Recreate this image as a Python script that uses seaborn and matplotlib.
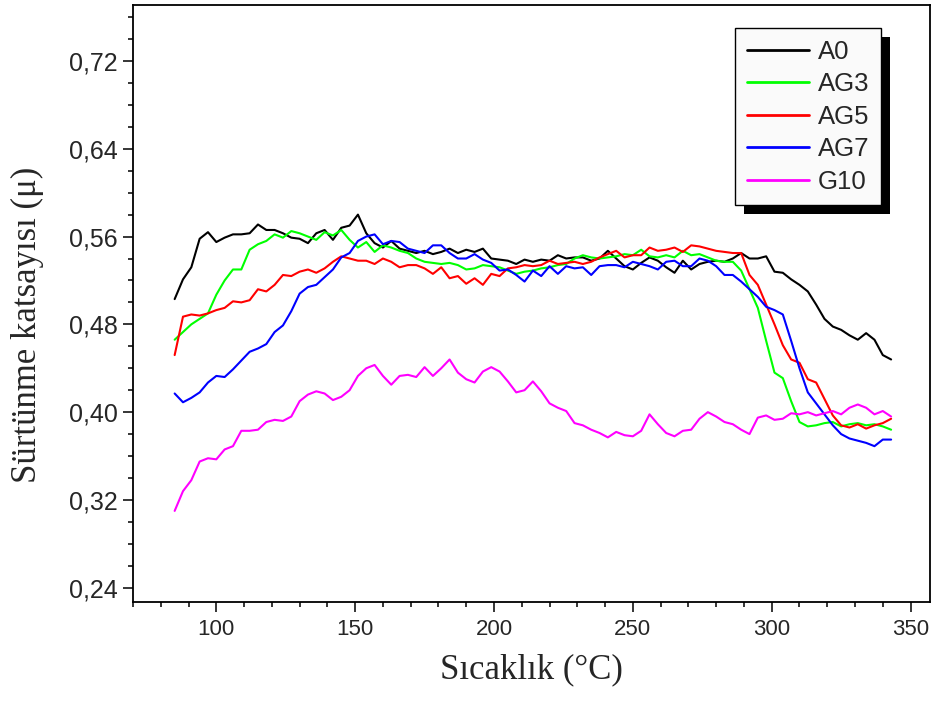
import numpy as np
import pandas as pd
import matplotlib
matplotlib.use("Agg")
import matplotlib.pyplot as plt
from matplotlib.patches import Rectangle
from matplotlib.ticker import MultipleLocator, FuncFormatter
import seaborn as sns

# sicaklik (°C) - ortak okuma noktalari
sicaklik = [85, 88, 91, 94, 97, 100, 103, 106, 109, 112, 115, 118, 121, 124, 127,
            130, 133, 136, 139, 142, 145, 148, 151, 154, 157, 160, 163, 166, 169, 172,
            175, 178, 181, 184, 187, 190, 193, 196, 199, 202, 205, 208, 211, 214, 217,
            220, 223, 226, 229, 232, 235, 238, 241, 244, 247, 250, 253, 256, 259, 262,
            265, 268, 271, 274, 277, 280, 283, 286, 289, 292, 295, 298, 301, 304, 307,
            310, 313, 316, 319, 322, 325, 328, 331, 334, 337, 340, 343]

a0 = [0.503, 0.521, 0.532, 0.558, 0.564, 0.555, 0.559, 0.562, 0.562, 0.563, 0.571, 0.566, 0.566, 0.563, 0.559,
      0.558, 0.554, 0.563, 0.566, 0.557, 0.568, 0.570, 0.580, 0.563, 0.554, 0.550, 0.556, 0.549, 0.547, 0.545,
      0.547, 0.544, 0.546, 0.549, 0.545, 0.548, 0.546, 0.549, 0.540, 0.539, 0.538, 0.535, 0.539, 0.537, 0.539,
      0.538, 0.543, 0.540, 0.541, 0.541, 0.538, 0.540, 0.547, 0.540, 0.533, 0.530, 0.536, 0.541, 0.538, 0.532,
      0.527, 0.538, 0.530, 0.535, 0.537, 0.538, 0.537, 0.540, 0.545, 0.540, 0.540, 0.542, 0.528, 0.527, 0.521,
      0.516, 0.510, 0.498, 0.485, 0.478, 0.475, 0.470, 0.466, 0.472, 0.466, 0.452, 0.448]

ag3 = [0.466, 0.473, 0.480, 0.485, 0.490, 0.507, 0.520, 0.530, 0.530, 0.548, 0.553, 0.556, 0.562, 0.559, 0.565,
       0.563, 0.560, 0.557, 0.564, 0.561, 0.566, 0.557, 0.550, 0.555, 0.546, 0.552, 0.550, 0.547, 0.545, 0.540,
       0.537, 0.536, 0.535, 0.536, 0.534, 0.530, 0.531, 0.534, 0.533, 0.532, 0.529, 0.526, 0.528, 0.529, 0.531,
       0.532, 0.534, 0.535, 0.540, 0.543, 0.541, 0.540, 0.541, 0.542, 0.544, 0.543, 0.548, 0.542, 0.541, 0.543,
       0.541, 0.547, 0.543, 0.544, 0.541, 0.538, 0.537, 0.537, 0.529, 0.512, 0.495, 0.465, 0.436, 0.431, 0.410,
       0.391, 0.387, 0.388, 0.390, 0.391, 0.387, 0.389, 0.390, 0.388, 0.389, 0.387, 0.384]

ag5 = [0.452, 0.487, 0.489, 0.488, 0.490, 0.493, 0.495, 0.501, 0.500, 0.502, 0.512, 0.510, 0.516, 0.525, 0.524,
       0.528, 0.530, 0.527, 0.531, 0.537, 0.542, 0.540, 0.538, 0.538, 0.535, 0.540, 0.537, 0.532, 0.534, 0.534,
       0.531, 0.526, 0.532, 0.522, 0.524, 0.517, 0.522, 0.516, 0.526, 0.524, 0.531, 0.532, 0.534, 0.533, 0.534,
       0.538, 0.535, 0.536, 0.537, 0.535, 0.537, 0.541, 0.544, 0.547, 0.541, 0.543, 0.543, 0.550, 0.547, 0.548,
       0.550, 0.546, 0.552, 0.551, 0.549, 0.547, 0.546, 0.545, 0.545, 0.525, 0.516, 0.498, 0.480, 0.461, 0.448,
       0.445, 0.430, 0.427, 0.412, 0.397, 0.388, 0.386, 0.389, 0.385, 0.388, 0.390, 0.394]

ag7 = [0.417, 0.409, 0.413, 0.418, 0.427, 0.433, 0.432, 0.439, 0.447, 0.455, 0.458, 0.462, 0.473, 0.479, 0.492,
       0.508, 0.514, 0.516, 0.523, 0.530, 0.541, 0.545, 0.556, 0.560, 0.562, 0.553, 0.556, 0.555, 0.549, 0.547,
       0.545, 0.552, 0.552, 0.545, 0.540, 0.540, 0.544, 0.539, 0.536, 0.529, 0.530, 0.525, 0.519, 0.529, 0.524,
       0.533, 0.526, 0.533, 0.531, 0.532, 0.525, 0.533, 0.534, 0.534, 0.532, 0.537, 0.535, 0.533, 0.530, 0.537,
       0.538, 0.533, 0.533, 0.540, 0.538, 0.533, 0.525, 0.525, 0.519, 0.512, 0.505, 0.496, 0.493, 0.489, 0.465,
       0.440, 0.418, 0.408, 0.398, 0.388, 0.380, 0.376, 0.374, 0.372, 0.369, 0.375, 0.375]

g10 = [0.310, 0.328, 0.338, 0.355, 0.358, 0.357, 0.366, 0.369, 0.383, 0.383, 0.384, 0.391, 0.393, 0.392, 0.396,
       0.410, 0.416, 0.419, 0.417, 0.411, 0.414, 0.420, 0.433, 0.440, 0.443, 0.433, 0.425, 0.433, 0.434, 0.432,
       0.441, 0.433, 0.440, 0.448, 0.436, 0.430, 0.427, 0.437, 0.441, 0.437, 0.428, 0.418, 0.420, 0.428, 0.419,
       0.408, 0.404, 0.401, 0.390, 0.388, 0.384, 0.381, 0.377, 0.382, 0.379, 0.378, 0.383, 0.398, 0.389, 0.381,
       0.378, 0.383, 0.384, 0.394, 0.400, 0.396, 0.391, 0.389, 0.384, 0.380, 0.395, 0.397, 0.393, 0.394, 0.399,
       0.398, 0.400, 0.397, 0.399, 0.401, 0.398, 0.404, 0.407, 0.404, 0.398, 0.401, 0.396]

seriler = ["A0", "AG3", "AG5", "AG7", "G10"]
renkler = ["#000000", "#00ff00", "#ff0000", "#0000ff", "#ff00ff"]

df = pd.concat([
    pd.DataFrame({"T": sicaklik, "mu": v, "numune": ad})
    for ad, v in zip(seriler, [a0, ag3, ag5, ag7, g10])
])

sns.set_style("ticks")
plt.rcParams["font.family"] = ["Liberation Sans", "DejaVu Sans"]

fig = plt.figure(figsize=(9.32, 7.05), dpi=100)
ax = fig.add_axes([133 / 932, 1 - 602 / 705, 797 / 932, 597 / 705])

sns.lineplot(data=df, x="T", y="mu", hue="numune", palette=renkler,
             hue_order=seriler, estimator=None, sort=False, linewidth=1.5, ax=ax)

ax.set_xlim(70, 357)
ax.set_ylim(0.227, 0.771)
ax.xaxis.set_major_locator(MultipleLocator(50))
ax.xaxis.set_minor_locator(MultipleLocator(10))
ax.yaxis.set_major_locator(MultipleLocator(0.08))
ax.yaxis.set_minor_locator(MultipleLocator(0.02))
ax.yaxis.set_major_formatter(FuncFormatter(lambda v, p: f"{v:.2f}".replace(".", ",")))

ax.tick_params(which="both", direction="out", width=1.3, top=False, right=False)
ax.tick_params(which="major", length=7)
ax.tick_params(which="minor", length=3.5)
ax.tick_params(axis="x", labelsize=16, pad=5)
ax.tick_params(axis="y", labelsize=18, pad=4)
for s in ax.spines.values():
    s.set_linewidth(1.3)
    s.set_color("black")

serif = ["Liberation Serif", "DejaVu Serif"]
ax.set_xlabel("Sıcaklık (°C)", fontsize=25, family=serif, labelpad=10)
ax.set_ylabel("Sürtünme katsayısı (μ)", fontsize=25, family=serif)
ax.yaxis.set_label_coords(-0.112, 0.464)

leg = ax.legend(loc="upper right", bbox_to_anchor=(0.938, 0.961), borderaxespad=0,
                fontsize=18.5, frameon=True, fancybox=False, edgecolor="black",
                facecolor="#fafafa", framealpha=1, borderpad=0.45, labelspacing=0.33,
                handlelength=2.4, handletextpad=0.35, title=None)
leg.get_frame().set_linewidth(1.0)
for h in leg.get_lines():
    h.set_linewidth(2)

# legend golgesi
fig.canvas.draw()
bb = leg.get_window_extent()
golge = Rectangle((bb.x0 + 9, bb.y0 - 9), bb.width, bb.height, transform=None,
                  facecolor="black", edgecolor="none", zorder=4, clip_on=False)
ax.add_artist(golge)
leg.set_zorder(5)

fig.savefig("out.png", dpi=100)
